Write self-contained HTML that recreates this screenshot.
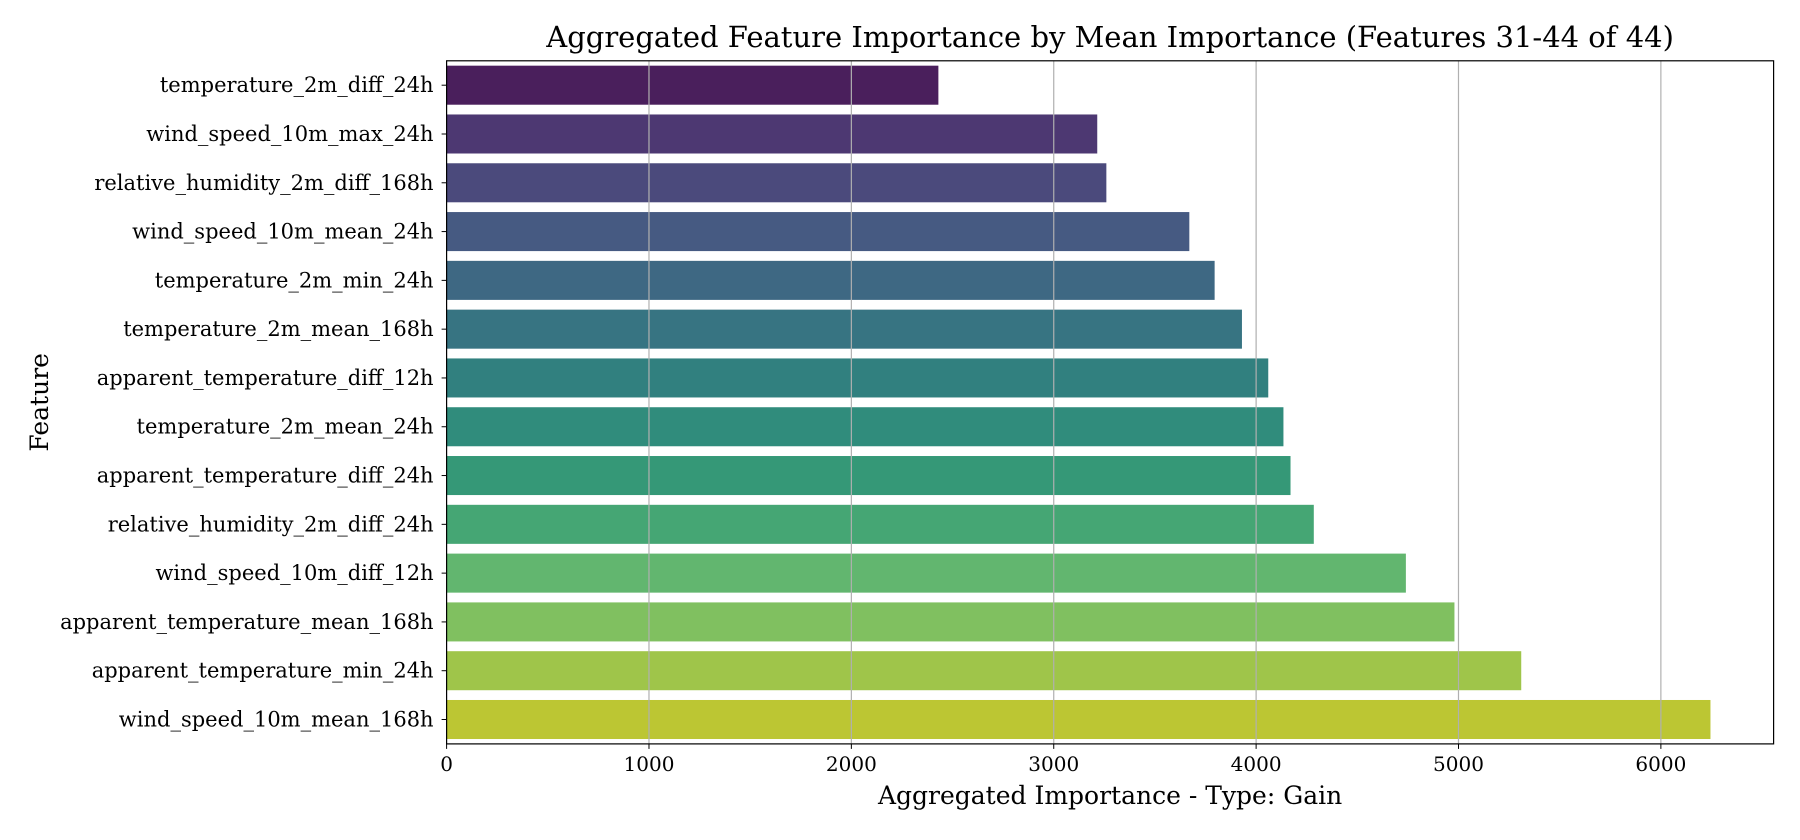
<!DOCTYPE html>
<html><head><meta charset="utf-8"><style>
html,body{margin:0;padding:0;background:#fff;}
svg{display:block;font-family:"DejaVu Serif","Liberation Serif",serif;}
</style></head><body>
<svg id="chart" width="1800" height="840" viewBox="0 0 1800 840"></svg>
<script>
const categories = ["temperature_2m_diff_24h","wind_speed_10m_max_24h","relative_humidity_2m_diff_168h","wind_speed_10m_mean_24h","temperature_2m_min_24h","temperature_2m_mean_168h","apparent_temperature_diff_12h","temperature_2m_mean_24h","apparent_temperature_diff_24h","relative_humidity_2m_diff_24h","wind_speed_10m_diff_12h","apparent_temperature_mean_168h","apparent_temperature_min_24h","wind_speed_10m_mean_168h"];
const values = [2430,3215,3260,3670,3795,3930,4060,4135,4170,4285,4740,4980,5310,6245];
const xTicks = [0,1000,2000,3000,4000,5000,6000];
const colors = ["#4a1f5c","#4d3872","#4b4a7c","#465a82","#3e6883","#377482","#31807f","#308c7c","#359877","#45a674","#62b66f","#80c060","#9fc54a","#bcc633"];

const svg = document.getElementById('chart');
const NS = 'http://www.w3.org/2000/svg';
const L = 446.6, R = 1773.6, T = 60.8, B = 743.9, XMAX = 6557;
const x = v => L + v / XMAX * (R - L);
const step = (B - T) / categories.length;
const y = i => T + step * (i + 0.5);
function mk(tag, attrs, text){
  const e = document.createElementNS(NS, tag);
  for (const k in attrs) e.setAttribute(k, attrs[k]);
  if (text !== undefined) e.textContent = text;
  svg.appendChild(e); return e;
}
categories.forEach((c, i) => {
  const bh = step * 0.8;
  const r = mk('rect', {x: L, y: y(i) - bh/2, width: x(values[i]) - L, height: bh, fill: colors[i]});
  
  
  mk('line', {x1: L - 5, x2: L, y1: y(i), y2: y(i), stroke: '#000', 'stroke-width': 1});
  const t = mk('text', {x: L - 13, y: y(i) + 7, 'text-anchor': 'end', 'font-size': 21}, c);
  
  
});
xTicks.forEach(v => {
  if (v > 0) {
    const g = mk('line', {x1: x(v), x2: x(v), y1: T, y2: B, stroke: '#b0b0b0', 'stroke-width': 1.2});
    
    
  }
  mk('line', {x1: x(v), x2: x(v), y1: B, y2: B + 5, stroke: '#000', 'stroke-width': 1});
  const t = mk('text', {x: x(v), y: B + 27, 'text-anchor': 'middle', 'font-size': 20}, String(v));
  
  
});
const frame = mk('rect', {x: L, y: T, width: R - L, height: B - T, fill: 'none', stroke: '#000', 'stroke-width': 1.2});


const title = mk('text', {x: (L + R) / 2, y: 47, 'text-anchor': 'middle', 'font-size': 29}, 'Aggregated Feature Importance by Mean Importance (Features 31-44 of 44)');


const xl = mk('text', {x: (L + R) / 2, y: 804, 'text-anchor': 'middle', 'font-size': 25}, 'Aggregated Importance - Type: Gain');


const yl = mk('text', {x: 48, y: (T + B) / 2, 'text-anchor': 'middle', 'font-size': 25, transform: 'rotate(-90 48 ' + ((T + B) / 2) + ')'}, 'Feature');


</script>
</body></html>
